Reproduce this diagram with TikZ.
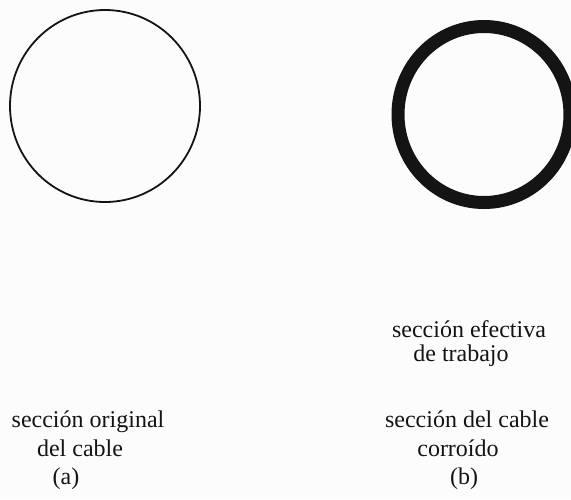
\documentclass[tikz,border=0pt]{standalone}
\usepackage{xcolor}
\usepackage{tikz}
\usepackage{fontspec}
\setmainfont{Liberation Serif}
\usetikzlibrary{positioning,calc}
\definecolor{paper}{RGB}{252, 252, 252}
\definecolor{ink}{RGB}{20, 20, 20}

\tikzset{
    caption/.style={text=ink, anchor=base, inner sep=0pt, font=\fontsize{24}{28}\selectfont},
}

\begin{document}
\begin{tikzpicture}[x=1pt, y=-1pt]
    \useasboundingbox[fill=paper] (0,0) rectangle (571,499);
    % (a) original section
    \draw[ink, line width=1.8pt] (105,106) ellipse [x radius=95, y radius=96];
    % (b) corroded section
    \draw[ink, line width=13pt] (484,114.5) ellipse [x radius=86, y radius=88];
    \node[caption] (efect) at (469,337) {sección efectiva};
    \node[caption] (trab) at (461,361) {de trabajo};
    \node[caption] (origA) at (88,427) {sección original};
    \node[caption] (cabA) at (80,456) {del cable};
    \node[caption] (tagA) at (66,484) {(a)};
    \node[caption] (origB) at (467,427) {sección del cable};
    \node[caption] (corr) at (458,456) {corroído};
    \node[caption] (tagB) at (464,484) {(b)};
\end{tikzpicture}
\end{document}
